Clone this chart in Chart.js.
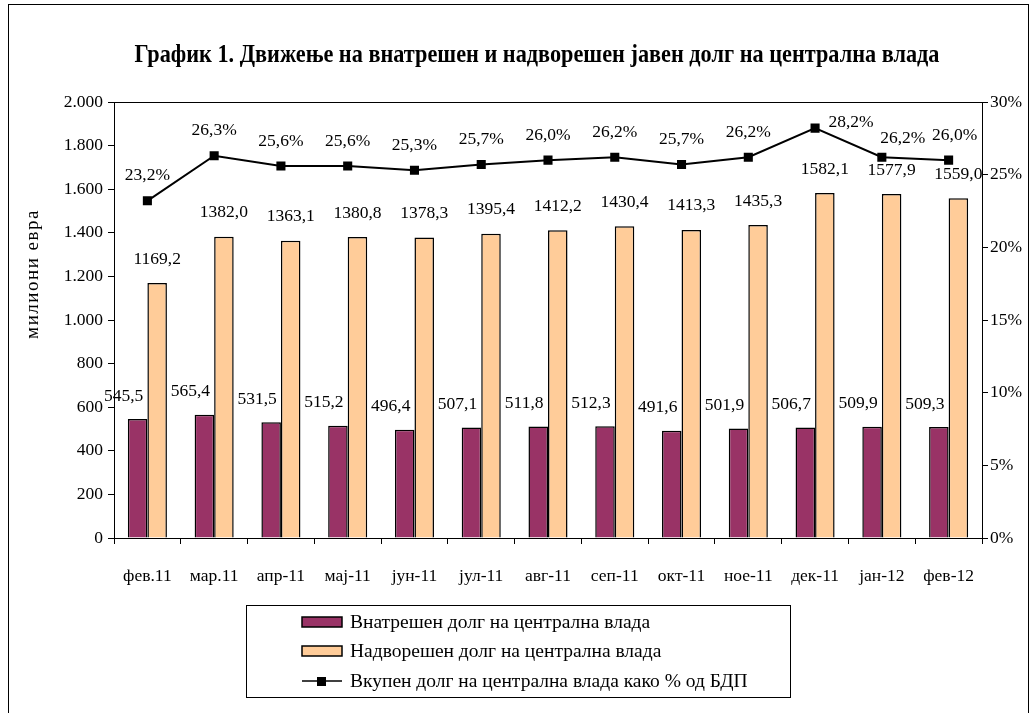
<!DOCTYPE html>
<html>
<head>
<meta charset="utf-8">
<script src="https://cdn.jsdelivr.net/npm/chart.js@4.4.1/dist/chart.umd.min.js"></script>
<style>
html,body{margin:0;padding:0;background:#fff;}
#wrap{position:relative;width:1034px;height:713px;}
</style>
</head>
<body>
<div id="wrap"><canvas id="c" width="1034" height="713"></canvas></div>
<script>
const categories = ['фев.11','мар.11','апр-11','мај-11','јун-11','јул-11','авг-11','сеп-11','окт-11','ное-11','дек-11','јан-12','фев-12'];
const internalDebt = [545.5,565.4,531.5,515.2,496.4,507.1,511.8,512.3,491.6,501.9,506.7,509.9,509.3];
const externalDebt = [1169.2,1382.0,1363.1,1380.8,1378.3,1395.4,1412.2,1430.4,1413.3,1435.3,1582.1,1577.9,1559.0];
const debtPctGdp = [23.2,26.3,25.6,25.6,25.3,25.7,26.0,26.2,25.7,26.2,28.2,26.2,26.0];
const leftTicks = [0,200,400,600,800,1000,1200,1400,1600,1800,2000];
const rightTicks = [0,5,10,15,20,25,30];

const titleText = 'График 1. Движење на внатрешен и надворешен јавен долг на централна влада';
const yTitle = 'милиони евра';
const legendLabels = ['Внатрешен долг на централна влада','Надворешен долг на централна влада','Вкупен долг на централна влада како % од БДП'];

const FONT = '"Liberation Serif", serif';
const COL_IN = '#993366', COL_EX = '#FFCC99';

function fmtNum(v){ return v.toFixed(1).replace('.', ','); }
function fmtThousands(v){ return String(v).replace(/\B(?=(\d{3})+(?!\d))/g,'.'); }

const decor = {
  id:'decor',
  afterDatasetsDraw(chart){
    const ctx = chart.ctx, ca = chart.chartArea;
    ctx.save();
    ctx.strokeStyle='#000'; ctx.lineWidth=1;
    ctx.beginPath(); ctx.moveTo(ca.left, Math.round(ca.top)+0.5); ctx.lineTo(ca.right, Math.round(ca.top)+0.5); ctx.stroke();
    ctx.fillStyle='#000'; ctx.font='17.5px '+FONT; ctx.textAlign='center'; ctx.textBaseline='middle';
    const mIn = chart.getDatasetMeta(1), mEx = chart.getDatasetMeta(2), mL = chart.getDatasetMeta(0);
    mIn.data.forEach((b,i)=>{ ctx.fillText(fmtNum(internalDebt[i]), b.x-14, b.y-23); });
    mEx.data.forEach((b,i)=>{ ctx.fillText(fmtNum(externalDebt[i]), b.x, b.y-24); });
    const ldx = {10:36, 11:21, 12:6};
    const ldy = {10:-6, 11:-19};
    mL.data.forEach((p,i)=>{
      const dx = ldx[i]||0, dy = (ldy[i]!==undefined)?ldy[i]:-25;
      ctx.fillText(debtPctGdp[i].toFixed(1).replace('.',',')+'%', p.x+dx, p.y+dy);
    });
    ctx.restore();
  },
  afterDraw(chart){
    const ctx = chart.ctx;
    ctx.save();
    ctx.strokeStyle='#000'; ctx.lineWidth=1;
    ctx.strokeRect(8.5,4.5,1020,800);
    ctx.fillStyle='#000'; ctx.textAlign='center'; ctx.textBaseline='middle';
    ctx.font='bold 25px '+FONT;
    ctx.fillText(titleText, 537, 56, 805);
    ctx.save();
    ctx.translate(33, 274); ctx.rotate(-Math.PI/2);
    ctx.font='19px '+FONT;
    ctx.letterSpacing='1.5px';
    ctx.fillText(yTitle,0,0);
    ctx.restore();
    const lx=246.5, ly=605.5, lw=544, lh=92;
    ctx.strokeStyle='#000'; ctx.lineWidth=1; ctx.strokeRect(lx,ly,lw,lh);
    const rows=[622,651,681];
    ctx.textAlign='left'; ctx.font='19.5px '+FONT;
    [COL_IN,COL_EX].forEach((c,i)=>{
      ctx.fillStyle=c; ctx.fillRect(302,rows[i]-5,40,10);
      ctx.lineWidth=1.5; ctx.strokeStyle='#000'; ctx.strokeRect(302,rows[i]-5,40,10);
    });
    ctx.lineWidth=1.5; ctx.beginPath(); ctx.moveTo(302,rows[2]); ctx.lineTo(342,rows[2]); ctx.stroke();
    ctx.fillStyle='#000'; ctx.fillRect(317,rows[2]-4,9,9);
    legendLabels.forEach((t,i)=>{ ctx.fillStyle='#000'; ctx.fillText(t,350,rows[i]+1); });
    ctx.restore();
  }
};

new Chart(document.getElementById('c'), {
  type:'bar',
  data:{
    labels: categories,
    datasets:[
      {type:'line', label:legendLabels[2], data:debtPctGdp, yAxisID:'y1', borderColor:'#000', borderWidth:2,
       pointStyle:'rect', pointRadius:5, pointBackgroundColor:'#000', pointBorderColor:'#000', tension:0, order:0},
      {label:legendLabels[0], data:internalDebt, yAxisID:'y', backgroundColor:COL_IN, borderColor:'#000', borderWidth:1.5,
       categoryPercentage:0.585, barPercentage:1.0, order:1},
      {label:legendLabels[1], data:externalDebt, yAxisID:'y', backgroundColor:COL_EX, borderColor:'#000', borderWidth:1.5,
       categoryPercentage:0.585, barPercentage:1.0, order:2}
    ]
  },
  options:{
    responsive:false, animation:false, maintainAspectRatio:false,
    layout:{padding:{top:102,bottom:115,left:0,right:0}},
    plugins:{legend:{display:false}, title:{display:false}, tooltip:{enabled:false}},
    scales:{
      x:{
        grid:{display:true, drawOnChartArea:false, tickLength:6, color:'#000', offset:true},
        border:{color:'#000', width:1},
        ticks:{color:'#000', font:{family:FONT, size:17.5}, padding:22, maxRotation:0, autoSkip:false},
        afterFit(s){ s.height=60; }
      },
      y:{
        position:'left', min:0, max:2000,
        afterBuildTicks(s){ s.ticks = leftTicks.map(v=>({value:v})); },
        grid:{display:true, drawOnChartArea:false, tickLength:6, color:'#000'},
        border:{color:'#000', width:1},
        ticks:{color:'#000', font:{family:FONT, size:17.5}, padding:5, callback:v=>fmtThousands(v)},
        afterFit(s){ s.width=114; }
      },
      y1:{
        position:'right', min:0, max:30,
        afterBuildTicks(s){ s.ticks = rightTicks.map(v=>({value:v})); },
        grid:{display:true, drawOnChartArea:false, tickLength:6, color:'#000'},
        border:{color:'#000', width:1},
        ticks:{color:'#000', font:{family:FONT, size:17.5}, padding:2, callback:v=>v+'%'},
        afterFit(s){ s.width=52; }
      }
    }
  },
  plugins:[decor]
});
</script>
</body>
</html>
